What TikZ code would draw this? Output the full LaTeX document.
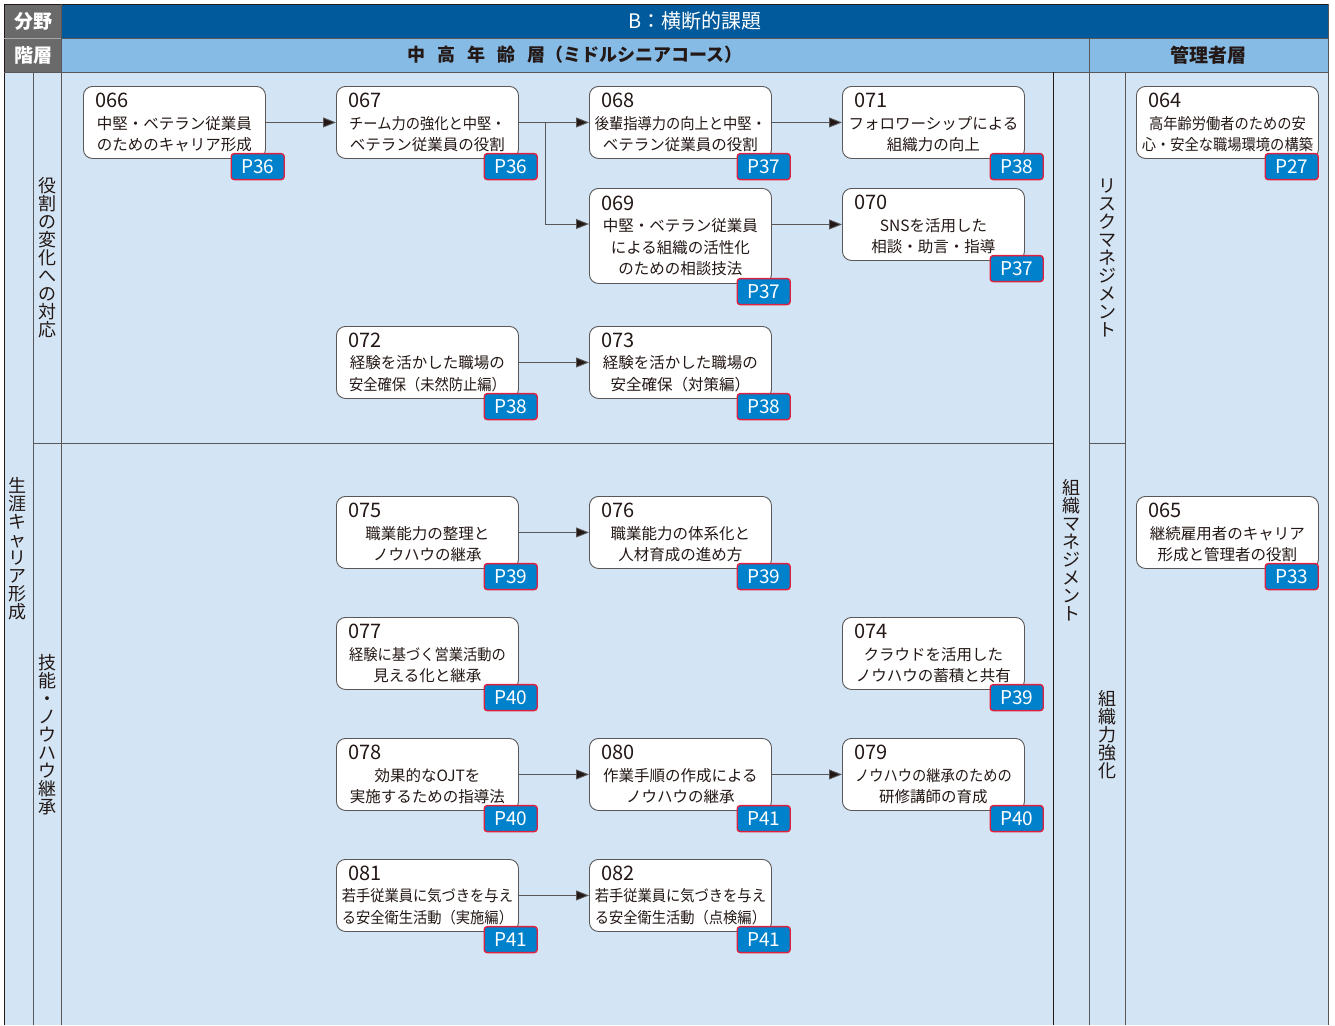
\documentclass[tikz,border=0pt]{standalone}
\usepackage{fontspec}
\setmainfont{Noto Sans CJK JP}
\usetikzlibrary{arrows.meta,calc}
\definecolor{dblue}{HTML}{005A9C}
\definecolor{hblue}{HTML}{86BBE6}
\definecolor{bblue}{HTML}{D3E5F5}
\definecolor{cgray}{HTML}{6A6A6A}
\definecolor{linec}{HTML}{595757}
\definecolor{txt}{HTML}{231815}
\definecolor{pblue}{HTML}{0081CC}
\definecolor{pred}{HTML}{E0203F}
\newcommand{\numl}[1]{\makebox[182pt][l]{\hspace{12pt}\fontsize{20}{21}\selectfont #1}}
\newcommand{\sq}[1]{\scalebox{0.92}[1]{#1}}
\begin{document}
\begin{tikzpicture}[x=1pt,y=-1pt,
  box/.style={draw=linec, line width=0.9pt, fill=white, rounded corners=9pt,
    minimum width=182pt, minimum height=72pt, inner sep=0pt, text width=182pt,
    align=center, anchor=north west, text=txt, font=\fontsize{15.5}{21.5}\selectfont},
  badge/.style={draw=pred, line width=1.4pt, fill=pblue, rounded corners=3pt,
    minimum width=53pt, minimum height=26pt, inner sep=0pt, anchor=north east,
    text=white, font=\fontsize{19}{19}\selectfont},
  arr/.style={draw=linec, line width=0.9pt, -{Triangle[length=13pt,width=10pt,fill=txt]}},
  vlab/.style={align=center, text width=20pt, inner sep=0pt, text=txt,
    font=\fontsize{18}{18}\selectfont},
  grid/.style={draw=linec, line width=0.9pt},
  hdr/.style={inner sep=0pt, font=\fontsize{19}{19}\selectfont}
]
\useasboundingbox (0,0) rectangle (1335,1025);
% backgrounds
\fill[bblue] (4,72) rectangle (1328,1025);
\fill[cgray] (4,4) rectangle (61,72);
\fill[dblue] (61,4) rectangle (1328,38);
\fill[hblue] (61,38) rectangle (1328,72);
% grid
\draw[grid, draw=txt] (4,1025) -- (4,4) -- (1328,4);
\draw[grid] (1328,4) -- (1328,1025);
\draw[grid, draw=gray!70] (4,38) -- (61,38);
\draw[grid] (61,38) -- (1328,38);
\draw[grid] (4,72) -- (1328,72);
\draw[grid] (61,4) -- (61,1025);
\draw[grid] (1089,38) -- (1089,1025);
\draw[grid] (33,72) -- (33,1025);
\draw[grid, draw=txt] (1053,72) -- (1053,1025);
\draw[grid] (1125,72) -- (1125,1025);
\draw[grid] (33,443) -- (1053,443);
\draw[grid] (1089,443) -- (1125,443);
% header texts
\node[hdr, text=white, font=\bfseries\fontsize{19}{19}\selectfont] (h1) at (33,21) {分野};
\node[hdr, text=white, font=\bfseries\fontsize{19}{19}\selectfont] (h2) at (33,55) {階層};
\node[hdr, text=white, font=\fontsize{20}{20}\selectfont] (h3) at (695,21) {B：横断的課題};
\node[hdr, text=txt, font=\bfseries\fontsize{18}{18}\selectfont] (h4) at (575,55)
  {中\hspace{12pt}高\hspace{12pt}年\hspace{12pt}齢\hspace{12pt}層（ミドルシニアコース）};
\node[hdr, text=txt, font=\bfseries\fontsize{19}{19}\selectfont] (h5) at (1208,55) {管理者層};
% vertical labels
\node[vlab] (v1) at (18,549) {生\\涯\\キ\\ャ\\リ\\ア\\形\\成};
\node[vlab] (v2) at (47,258) {役\\割\\の\\変\\化\\へ\\の\\対\\応};
\node[vlab] (v3) at (47,735) {技\\能\\・\\ノ\\ウ\\ハ\\ウ\\継\\承};
\node[vlab] (v4) at (1071,550) {組\\織\\マ\\ネ\\ジ\\メ\\ン\\ト};
\node[vlab] (v5) at (1107,258) {リ\\ス\\ク\\マ\\ネ\\ジ\\メ\\ン\\ト};
\node[vlab] (v6) at (1107,735) {組\\織\\力\\強\\化};
% boxes
\node[box] (b066) at (83,86) {\numl{066}\\中堅・ベテラン従業員\\のためのキャリア形成};
\node[box] (b067) at (336,86) {\numl{067}\\\sq{チーム力の強化と中堅・}\\ベテラン従業員の役割};
\node[box] (b068) at (589,86) {\numl{068}\\\sq{後輩指導力の向上と中堅・}\\ベテラン従業員の役割};
\node[box] (b071) at (842,86) {\numl{071}\\フォロワーシップによる\\組織力の向上};
\node[box, minimum height=95pt] (b069) at (589,188) {\numl{069}\\中堅・ベテラン従業員\\による組織の活性化\\のための相談技法};
\node[box] (b070) at (842,188) {\numl{070}\\SNSを活用した\\相談・助言・指導};
\node[box] (b072) at (336,326) {\numl{072}\\経験を活かした職場の\\\sq{安全確保（未然防止編）}};
\node[box] (b073) at (589,326) {\numl{073}\\経験を活かした職場の\\安全確保（対策編）};
\node[box] (b075) at (336,496) {\numl{075}\\職業能力の整理と\\ノウハウの継承};
\node[box] (b076) at (589,496) {\numl{076}\\職業能力の体系化と\\人材育成の進め方};
\node[box] (b077) at (336,617) {\numl{077}\\\sq{経験に基づく営業活動の}\\見える化と継承};
\node[box] (b074) at (842,617) {\numl{074}\\クラウドを活用した\\ノウハウの蓄積と共有};
\node[box] (b078) at (336,738) {\numl{078}\\効果的なOJTを\\実施するための指導法};
\node[box] (b080) at (589,738) {\numl{080}\\作業手順の作成による\\ノウハウの継承};
\node[box] (b079) at (842,738) {\numl{079}\\\sq{ノウハウの継承のための}\\研修講師の育成};
\node[box] (b081) at (336,859) {\numl{081}\\\sq{若手従業員に気づきを与え}\\\sq{る安全衛生活動（実施編）}};
\node[box] (b082) at (589,859) {\numl{082}\\\sq{若手従業員に気づきを与え}\\\sq{る安全衛生活動（点検編）}};
\node[box] (b064) at (1136,86) {\numl{064}\\\sq{高年齢労働者のための安}\\\sq{心・安全な職場環境の構築}};
\node[box] (b065) at (1136,496) {\numl{065}\\継続雇用者のキャリア\\形成と管理者の役割};
% arrows
\draw[arr] (b066) -- (b067);
\draw[arr] (b067) -- (b068);
\draw[arr] (b068) -- (b071);
\coordinate (j) at (545,121.5);
\draw[arr] (j) |- ($(b069.north west)+(0,36)$);
\draw[arr] (b070.west -| b069.east) -- (b070.west);
\draw[arr] (b072) -- (b073);
\draw[arr] (b075) -- (b076);
\draw[arr] (b078) -- (b080);
\draw[arr] (b080) -- (b079);
\draw[arr] (b081) -- (b082);
% badges
\foreach \b/\p in {066/36,067/36,068/37,071/38,069/37,070/37,072/38,073/38,075/39,076/39,077/40,074/39,078/40,080/41,079/40,081/41,082/41}{
  \node[badge] (p\b) at ($(b\b.south east)+(19,-6)$) {P\p};
}
\foreach \b/\p in {064/27,065/33}{
  \node[badge] (p\b) at ($(b\b.south east)+(0,-6)$) {P\p};
}
\end{tikzpicture}
\end{document}
